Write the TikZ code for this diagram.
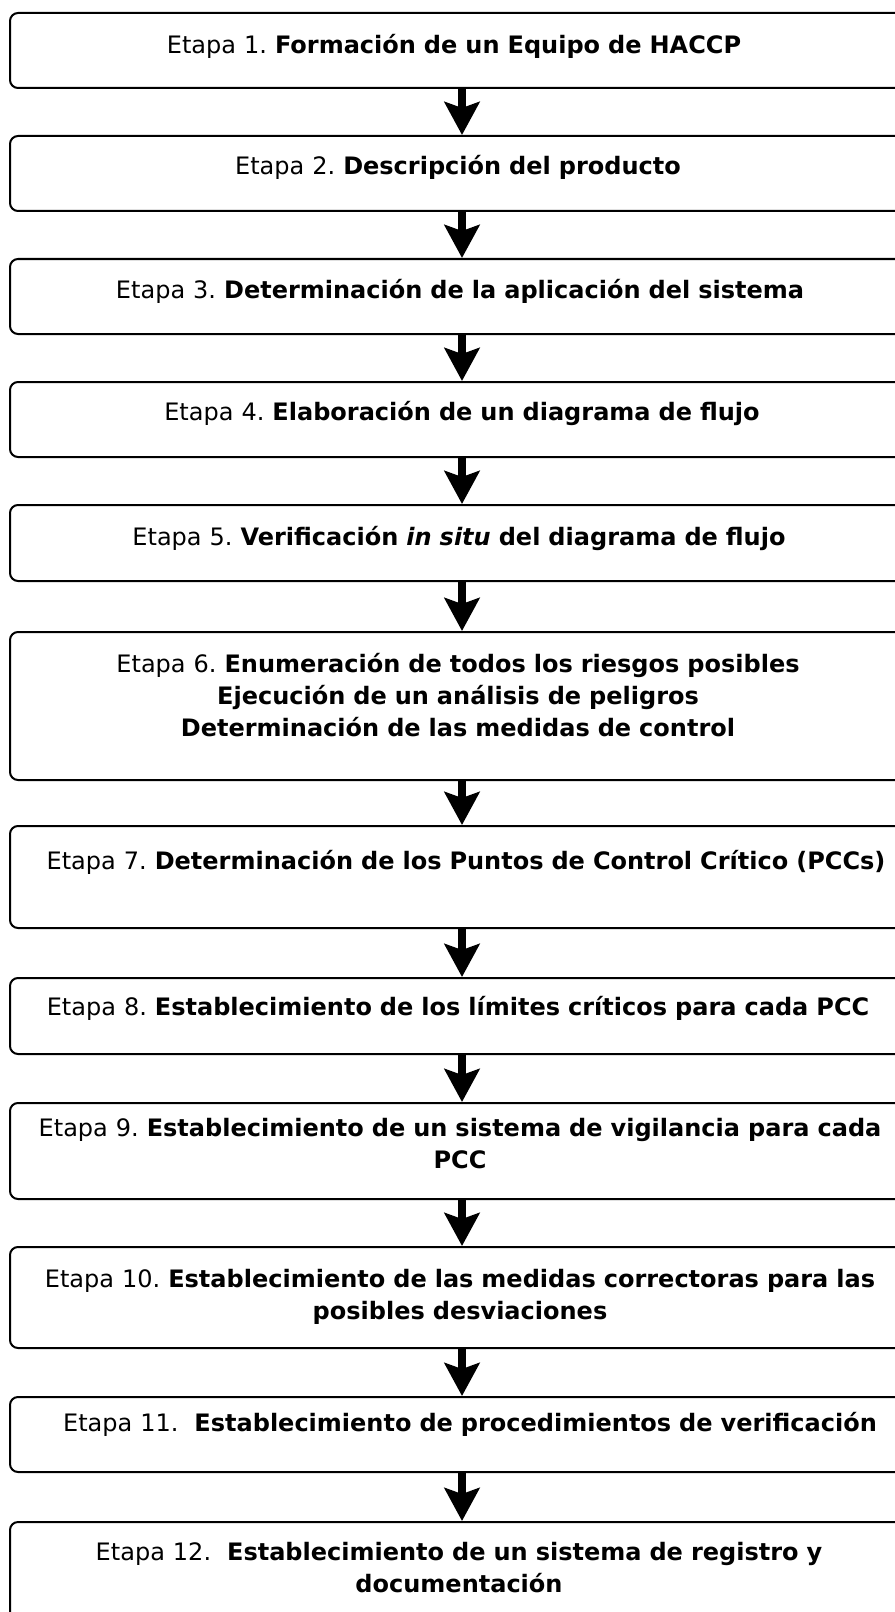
\documentclass[tikz,border=0pt]{standalone}
\usepackage{fontspec}
\setmainfont{DejaVu Sans}
\usetikzlibrary{arrows.meta}
\newdimen\pix \pix=0.75pt
\frenchspacing

\begin{document}
\begin{tikzpicture}[x=0.75pt,y=-0.75pt,
		caja/.style={draw, line width=2\pix, rounded corners=8\pix, minimum width=904\pix, inner sep=0pt, anchor=north},
		texto/.style={anchor=base, align=center, text width=884\pix, inner sep=0pt, font=\fontsize{18}{24}\selectfont},
		flecha/.style={line width=6pt, -{Stealth[length=24.75pt, width=26.25pt, inset=4.5pt]}}]
		\useasboundingbox (0,0) rectangle (894,1612);
		% cajas de las etapas
		\node[caja, minimum height=75\pix] (e1) at (462,12) {};
		\node[caja, minimum height=75\pix] (e2) at (462,135) {};
		\node[caja, minimum height=75\pix] (e3) at (462,258) {};
		\node[caja, minimum height=75\pix] (e4) at (462,381) {};
		\node[caja, minimum height=76\pix] (e5) at (462,504) {};
		\node[caja, minimum height=148\pix] (e6) at (462,631) {};
		\node[caja, minimum height=102\pix] (e7) at (462,825) {};
		\node[caja, minimum height=76\pix] (e8) at (462,977) {};
		\node[caja, minimum height=96\pix] (e9) at (462,1102) {};
		\node[caja, minimum height=101\pix] (e10) at (462,1246) {};
		\node[caja, minimum height=75\pix] (e11) at (462,1396) {};
		\node[caja, minimum height=130\pix] (e12) at (462,1521) {};
		% textos
		\node[texto] (t1) at ([xshift=-8\pix,yshift=-42\pix]e1.north) {Etapa 1. \textbf{Formación de un Equipo de HACCP}};
		\node[texto] (t2) at ([xshift=-4\pix,yshift=-40\pix]e2.north) {Etapa 2. \textbf{Descripción del producto}};
		\node[texto] (t3) at ([xshift=-2\pix,yshift=-40\pix]e3.north) {Etapa 3. \textbf{Determinación de la aplicación del sistema}};
		\node[texto] (t4) at ([xshift=0\pix,yshift=-39\pix]e4.north) {Etapa 4. \textbf{Elaboración de un diagrama de flujo}};
		\node[texto] (t5) at ([xshift=-3\pix,yshift=-41\pix]e5.north) {Etapa 5. \textbf{Verificación \textit{in situ} del diagrama de flujo}};
		\node[texto] (t6) at ([xshift=-4\pix,yshift=-41\pix]e6.north) {Etapa 6. \textbf{Enumeración de todos los riesgos posibles}\\
			\textbf{Ejecución de un análisis de peligros}\\
			\textbf{Determinación de las medidas de control}};
		\node[texto] (t7) at ([xshift=4\pix,yshift=-44\pix]e7.north) {Etapa 7. \textbf{Determinación de los Puntos de Control Crítico (PCCs)}};
		\node[texto] (t8) at ([xshift=-4\pix,yshift=-38\pix]e8.north) {Etapa 8. \textbf{Establecimiento de los límites críticos para cada PCC}};
		\node[texto] (t9) at ([xshift=-2\pix,yshift=-34\pix]e9.north) {Etapa 9. \textbf{Establecimiento de un sistema de vigilancia para cada}\\
			\textbf{PCC}};
		\node[texto] (t10) at ([xshift=-2\pix,yshift=-41\pix]e10.north) {Etapa 10. \textbf{Establecimiento de las medidas correctoras para las}\\
			\textbf{posibles desviaciones}};
		\node[texto] (t11) at ([xshift=8\pix,yshift=-35\pix]e11.north) {Etapa 11.\ \ \textbf{Establecimiento de procedimientos de verificación}};
		\node[texto] (t12) at ([xshift=-3\pix,yshift=-39\pix]e12.north) {Etapa 12.\ \ \textbf{Establecimiento de un sistema de registro y}\\
			\textbf{documentación}};
		% flechas
		\foreach \a/\b in {1/2,2/3,3/4,4/5,5/6,6/7,7/8,8/9,9/10,10/11,11/12}
			\draw[flecha] (e\a.south) -- (e\b.north);
	\end{tikzpicture}
\end{document}
